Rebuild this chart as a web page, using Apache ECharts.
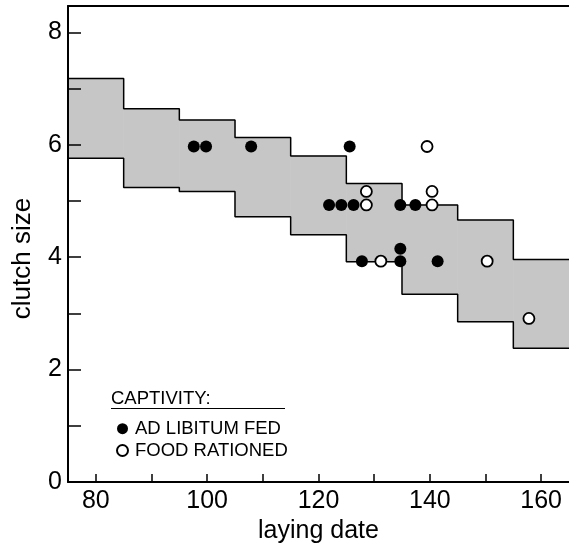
<!DOCTYPE html>
<html>
<head>
<meta charset="utf-8">
<script src="https://cdn.jsdelivr.net/npm/echarts@6/dist/echarts.min.js"></script>
<style>
  body { margin: 0; background: #fff; }
  #chart { width: 569px; height: 550px; }
</style>
</head>
<body>
<div id="chart"></div>
<script>
// shaded band: step edges and the band's lower/upper clutch size on each step
const bandEdges = [75, 85, 95, 105, 115, 125, 135, 145, 155, 165];
const bandUpper = [7.18, 6.64, 6.44, 6.13, 5.80, 5.31, 4.93, 4.66, 3.96, 3.96];
const bandLower = [5.76, 5.24, 5.17, 4.72, 4.40, 3.92, 3.34, 2.85, 2.38, 2.38];

// captivity: ad libitum fed
const fedDays   = [97.6, 99.8, 107.9, 125.6, 121.9, 124.1, 126.3, 134.7, 137.4, 127.8, 134.7, 134.7, 141.4];
const fedClutch = [5.97, 5.97, 5.97, 5.97, 4.93, 4.93, 4.93, 4.93, 4.93, 3.93, 3.93, 4.15, 3.93];

// captivity: food rationed
const ratDays   = [139.5, 128.6, 140.4, 128.6, 140.4, 131.2, 150.3, 157.8];
const ratClutch = [5.97, 4.93, 4.93, 5.17, 5.17, 3.93, 3.93, 2.91];

const xTicks = [80, 90, 100, 110, 120, 130, 140, 150, 160];
const xLabels = [80, 100, 120, 140, 160];
const yTicks = [0, 1, 2, 3, 4, 5, 6, 7, 8];
const yLabels = [0, 2, 4, 6, 8];

const FONT = 'Liberation Sans';
const SHADE = '#c6c6c6';

let chart = echarts.init(document.getElementById('chart'));

// one row per step: [x start, x end, lower, upper]
let stepData = [];
for (let i = 0; i < bandEdges.length - 1; i++) {
  stepData.push([bandEdges[i], bandEdges[i + 1], bandLower[i], bandUpper[i]]);
}
let lowerLine = bandEdges.map((x, i) => [x, bandLower[i]]);
let upperLine = bandEdges.map((x, i) => [x, bandUpper[i]]);
let fedData = fedDays.map((x, i) => [x, fedClutch[i]]);
let ratData = ratDays.map((x, i) => [x, ratClutch[i]]);

function renderStep(params, api) {
  let p0 = api.coord([api.value(0), api.value(3)]);
  let p1 = api.coord([api.value(1), api.value(2)]);
  return {
    type: 'rect',
    shape: { x: p0[0], y: p0[1], width: p1[0] - p0[0], height: p1[1] - p0[1] },
    style: { fill: SHADE, stroke: SHADE, lineWidth: 0.8 }
  };
}

let option = {
  animation: false,
  backgroundColor: '#fff',
  textStyle: { fontFamily: FONT, color: '#000' },
  grid: { left: 68, right: -2, top: 6, bottom: 68 },
  xAxis: [{
    type: 'value',
    min: 75,
    max: 165,
    position: 'bottom',
    z: 10,
    name: 'laying date',
    nameLocation: 'middle',
    nameGap: 37,
    nameTextStyle: { fontFamily: FONT, fontSize: 25, color: '#000' },
    axisLine: { lineStyle: { color: '#000', width: 2 } },
    axisTick: { inside: true, length: 8, customValues: xTicks, lineStyle: { color: '#000', width: 1.5 } },
    axisLabel: { customValues: xLabels, fontFamily: FONT, fontSize: 25, color: '#000', margin: 7 },
    splitLine: { show: false }
  }, {
    type: 'value',
    min: 75,
    max: 165,
    position: 'top',
    z: 10,
    axisLine: { show: true, lineStyle: { color: '#000', width: 2 } },
    axisTick: { show: false },
    axisLabel: { show: false },
    splitLine: { show: false }
  }],
  yAxis: {
    type: 'value',
    min: 0,
    max: 8.47,
    z: 10,
    name: 'clutch size',
    nameLocation: 'middle',
    nameGap: 32,
    nameTextStyle: { fontFamily: FONT, fontSize: 26, color: '#000', padding: [0, 29, 0, 0] },
    axisLine: { show: true, lineStyle: { color: '#000', width: 2 } },
    axisTick: { inside: true, length: 13, customValues: yTicks, lineStyle: { color: '#000', width: 1.5 } },
    axisLabel: { customValues: yLabels, fontFamily: FONT, fontSize: 25, color: '#000', margin: 6 },
    splitLine: { show: false }
  },
  legend: {
    data: ['AD LIBITUM FED', 'FOOD RATIONED'],
    orient: 'vertical',
    left: 111,
    top: 413.7,
    itemWidth: 11,
    itemHeight: 11,
    itemGap: 1.8,
    icon: 'circle',
    textStyle: { fontFamily: FONT, fontSize: 18.5, lineHeight: 20, color: '#000', padding: [0, 0, 0, 2] }
  },
  graphic: [{
    type: 'text',
    left: 111,
    top: 389,
    style: { text: 'CAPTIVITY:', font: '18.5px "Liberation Sans"', fill: '#000' }
  }, {
    type: 'line',
    shape: { x1: 111, y1: 408.5, x2: 285, y2: 408.5 },
    style: { stroke: '#000', lineWidth: 1 }
  }],
  series: [{
    name: 'band',
    type: 'custom',
    renderItem: renderStep,
    encode: { x: [0, 1], y: [2, 3] },
    data: stepData,
    silent: true,
    z: 1
  }, {
    name: 'band lower',
    type: 'line',
    step: 'end',
    symbol: 'none',
    data: lowerLine,
    lineStyle: { color: '#000', width: 1.5 },
    z: 2
  }, {
    name: 'band upper',
    type: 'line',
    step: 'end',
    symbol: 'none',
    data: upperLine,
    lineStyle: { color: '#000', width: 1.5 },
    z: 2
  }, {
    name: 'AD LIBITUM FED',
    type: 'scatter',
    symbol: 'circle',
    symbolSize: 12,
    data: fedData,
    itemStyle: { color: '#000', opacity: 1 },
    z: 3
  }, {
    name: 'FOOD RATIONED',
    type: 'scatter',
    symbol: 'circle',
    symbolSize: 11,
    data: ratData,
    itemStyle: { color: '#fff', borderColor: '#000', borderWidth: 1.8, opacity: 1 },
    z: 4
  }]
};

chart.setOption(option);
</script>
</body>
</html>
